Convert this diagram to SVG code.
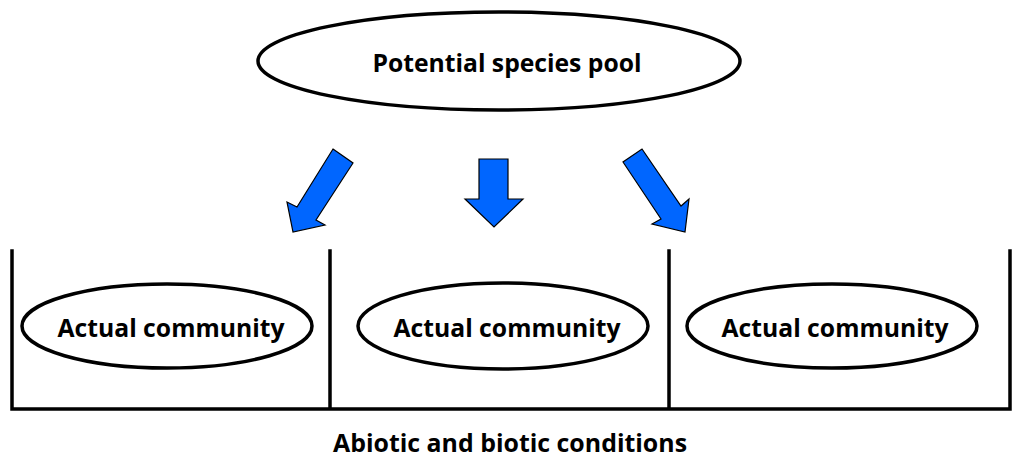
<svg xmlns="http://www.w3.org/2000/svg" width="1021" height="462" viewBox="0 0 1021 462">
<style>
.node ellipse{fill:#fff;stroke:#000;stroke-width:3.5}
.lbl{font-family:"Open Sans","Liberation Sans",sans-serif;font-weight:bold;font-size:25px;fill:#000;text-anchor:middle}
.arr{fill:#0066ff;stroke:#000;stroke-width:1.2;stroke-linejoin:miter}
.wall{stroke:#000;stroke-width:3.5;fill:none;stroke-linecap:square}
</style>
<rect width="1021" height="462" fill="#fff"/>
<g id="pool" class="node">
<ellipse cx="499" cy="61" rx="241" ry="49"/>
<text class="lbl" x="507" y="72" textLength="269" lengthAdjust="spacingAndGlyphs">Potential species pool</text>
</g>
<g id="connectors">
<polygon class="arr" points="333,149 353,163 316,220 325,225 293,232 287,202 297,207"/>
<polygon class="arr" points="479,159 508,159 508,199 523,199 494,227 465,199 479,199"/>
<polygon class="arr" points="642,149 681,206 689,199 685,232 652,224 661,219 623,162"/>
</g>
<g id="conditions">
<path class="wall" d="M12,251 V409 H1010 V251 M330,251 V409 M669,251 V409"/>
<text class="lbl" x="510" y="452" textLength="354" lengthAdjust="spacingAndGlyphs">Abiotic and biotic conditions</text>
</g>
<g id="community1" class="node">
<ellipse cx="167" cy="326" rx="145" ry="42"/>
<text class="lbl" x="171" y="337" textLength="227" lengthAdjust="spacingAndGlyphs">Actual community</text>
</g>
<g id="community2" class="node">
<ellipse cx="503" cy="326" rx="145" ry="43"/>
<text class="lbl" x="507" y="337" textLength="227" lengthAdjust="spacingAndGlyphs">Actual community</text>
</g>
<g id="community3" class="node">
<ellipse cx="832" cy="326" rx="145" ry="42"/>
<text class="lbl" x="835" y="337" textLength="227" lengthAdjust="spacingAndGlyphs">Actual community</text>
</g>
</svg>
